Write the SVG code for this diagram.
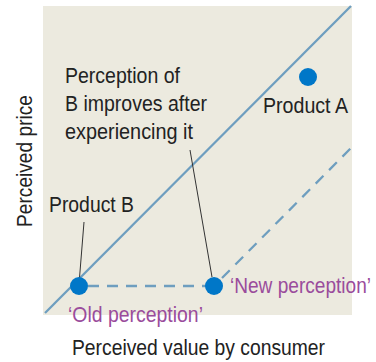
<svg xmlns="http://www.w3.org/2000/svg" width="376" height="362" viewBox="0 0 376 362">
<style>
.t{font-family:"Liberation Sans",Arial,sans-serif;font-size:21.5px;fill:#222}
.p{font-family:"Liberation Sans",Arial,sans-serif;font-size:21.5px;fill:#9A4C9C}
.ln{stroke:#6E9EBF;stroke-width:2.3;fill:none}
.ds{stroke:#6E9EBF;stroke-width:2.3;fill:none;stroke-dasharray:11 8}
.ld{stroke:#333;stroke-width:1;fill:none}
.dot{fill:#0077C8}
</style>
<rect width="376" height="362" fill="#fff"/>
<rect id="panel" x="43" y="6" width="309" height="309" fill="#ECEADF"/>
<g id="connectors">
<line class="ln" x1="45" y1="313" x2="351" y2="6"/>
<line class="ds" x1="88" y1="286" x2="206" y2="286"/>
<line class="ds" x1="222" y1="278" x2="351" y2="148"/>
<line class="ld" x1="84" y1="222" x2="79" y2="284"/>
<line class="ld" x1="190" y1="150" x2="212" y2="277"/>
</g>
<g id="productA"><circle class="dot" cx="308" cy="77" r="9"/><text class="t" x="263" y="113" textLength="85" lengthAdjust="spacingAndGlyphs">Product A</text></g>
<g id="productB"><text class="t" x="49" y="212" textLength="85" lengthAdjust="spacingAndGlyphs">Product B</text></g>
<g id="oldPerception"><circle class="dot" cx="79" cy="286" r="9"/><text class="p" x="68" y="322" textLength="135" lengthAdjust="spacingAndGlyphs">‘Old perception’</text></g>
<g id="newPerception"><circle class="dot" cx="214" cy="286" r="9"/><text class="p" x="230" y="293" textLength="141" lengthAdjust="spacingAndGlyphs">‘New perception’</text></g>
<g id="note">
<text class="t" x="65" y="83" textLength="115" lengthAdjust="spacingAndGlyphs">Perception of</text>
<text class="t" x="65" y="111" textLength="142" lengthAdjust="spacingAndGlyphs">B improves after</text>
<text class="t" x="65" y="139" textLength="128" lengthAdjust="spacingAndGlyphs">experiencing it</text>
</g>
<g id="axes">
<text class="t" x="72" y="355" textLength="253" lengthAdjust="spacingAndGlyphs">Perceived value by consumer</text>
<text class="t" transform="translate(32,227) rotate(-90)" x="0" y="0" textLength="132" lengthAdjust="spacingAndGlyphs">Perceived price</text>
</g>
</svg>
